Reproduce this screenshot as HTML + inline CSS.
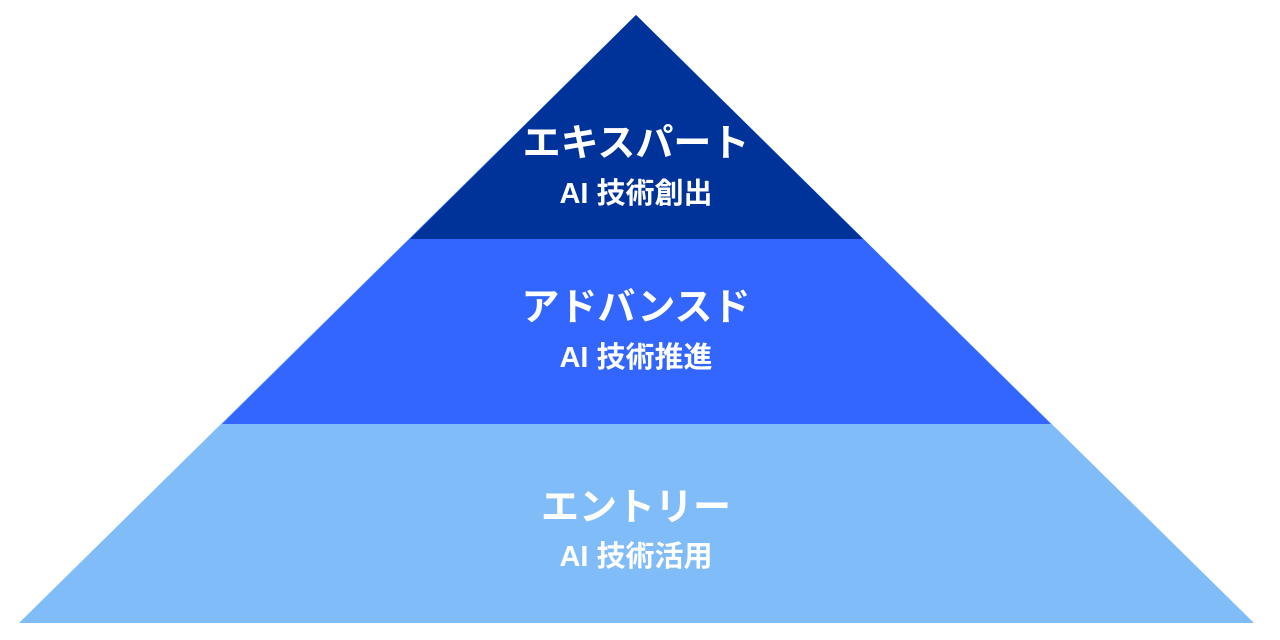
<!DOCTYPE html>
<html><head><meta charset="utf-8"><style>
html,body{margin:0;padding:0;background:#fff;width:1280px;height:640px;overflow:hidden}
</style></head><body>
<svg width="1280" height="640" viewBox="0 0 1280 640" xmlns="http://www.w3.org/2000/svg">
<polygon points="636,15 1254,623 19,623" fill="#80bcf8"/>
<polygon points="636,15 1051,424 222,424" fill="#3366ff"/>
<polygon points="636,15 863,239 410,239" fill="#003399"/>
<g font-family="'Liberation Sans','Noto Sans CJK JP',sans-serif" font-weight="bold" fill="#fff" text-anchor="middle">
<text x="636" y="156" font-size="38">エキスパート</text>
<text x="636" y="203" font-size="29">AI 技術創出</text>
<text x="636" y="320" font-size="38">アドバンスド</text>
<text x="636" y="367" font-size="29">AI 技術推進</text>
<text x="636" y="520" font-size="38">エントリー</text>
<text x="636" y="566" font-size="29">AI 技術活用</text>
</g>
</svg>
</body></html>
